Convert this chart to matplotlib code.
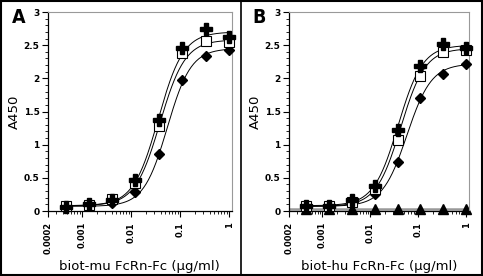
import numpy as np
import matplotlib
matplotlib.use("Agg")
import matplotlib.pyplot as plt
from matplotlib.ticker import FixedLocator, NullFormatter
from matplotlib.patches import Rectangle
from matplotlib.lines import Line2D

# Concentrations (3-fold dilutions, ug/ml)
conc = [0.00046, 0.00137, 0.0041, 0.0123, 0.037, 0.111, 0.333, 1.0]

# Panel A: biot-mu FcRn-Fc
a_cross = [0.06, 0.10, 0.17, 0.46, 1.37, 2.46, 2.75, 2.62]
a_square = [0.07, 0.09, 0.18, 0.42, 1.28, 2.38, 2.56, 2.55]
a_diamond = [0.07, 0.07, 0.12, 0.28, 0.86, 1.97, 2.33, 2.42]

# Panel B: biot-hu FcRn-Fc
b_cross = [0.07, 0.08, 0.16, 0.37, 1.22, 2.18, 2.52, 2.46]
b_square = [0.07, 0.07, 0.13, 0.33, 1.07, 2.03, 2.40, 2.42]
b_diamond = [0.06, 0.07, 0.12, 0.25, 0.74, 1.70, 2.07, 2.22]
b_triangle = [0.03, 0.03, 0.03, 0.03, 0.03, 0.03, 0.03, 0.03]

# fitted 4PL curves: bottom, top, ec50, hill
a_fits = [(0.08, 2.70, 0.036, 1.7), (0.08, 2.58, 0.039, 1.7), (0.07, 2.45, 0.055, 1.8)]
b_fits = [(0.08, 2.50, 0.038, 1.7), (0.07, 2.45, 0.043, 1.7), (0.07, 2.22, 0.058, 1.7)]
b_tri_level = 0.025

xticks = [0.0002, 0.001, 0.01, 0.1, 1]
xticklabels = ["0.0002", "0.001", "0.01", "0.1", "1"]
yticks = [0, 0.5, 1, 1.5, 2, 2.5, 3]
yticklabels = ["0", "0.5", "1", "1.5", "2", "2.5", "3"]


def logistic(x, p):
    bottom, top, ec50, hill = p
    return bottom + (top - bottom) / (1 + (ec50 / x) ** hill)


def setup_axis(ax, xlabel):
    ax.set_xscale("log")
    ax.set_xlim(0.0002, 1.14)
    ax.set_ylim(0, 3)
    ax.xaxis.set_major_locator(FixedLocator(xticks))
    ax.set_xticklabels(xticklabels, rotation=90, fontsize=6, fontweight="bold")
    minors = [m * 10.0 ** e for e in range(-4, 1) for m in range(2, 10)]
    ax.xaxis.set_minor_locator(FixedLocator([v for v in minors if 0.0002 < v < 1.1]))
    ax.xaxis.set_minor_formatter(NullFormatter())
    ax.set_yticks(yticks)
    ax.set_yticklabels(yticklabels, fontsize=6.5, fontweight="bold")
    ax.set_yticks(np.arange(0, 3.01, 0.1), minor=True)
    ax.tick_params(which="major", length=4, width=0.8, pad=2)
    ax.tick_params(axis="x", which="major", pad=4)
    ax.tick_params(which="minor", length=2, width=0.6)
    for s in ["top", "right"]:
        ax.spines[s].set_color("#999999")
        ax.spines[s].set_linewidth(0.8)
    for s in ["left", "bottom"]:
        ax.spines[s].set_linewidth(0.9)
    ax.set_ylabel("A450", fontsize=9.5, labelpad=2)
    ax.set_xlabel(xlabel, fontsize=9.5, labelpad=4)


def draw_series(ax, cross, square, diamond, fits):
    xs = np.logspace(np.log10(0.00046), 0, 200)
    for p in fits:
        ax.plot(xs, logistic(xs, p), color="black", lw=0.7, zorder=2)
    ax.plot(conc, diamond, "D", color="black", ms=5, zorder=3, clip_on=False)
    ax.plot(conc, square, "s", mfc="white", mec="black", mew=0.8, ms=6.5, zorder=4, clip_on=False)
    ax.plot(conc, cross, "P", color="black", ms=8.5, zorder=5, clip_on=False)


fig = plt.figure(figsize=(4.83, 2.76), dpi=100)

axA = fig.add_axes([0.099, 0.2355, 0.381, 0.721])
draw_series(axA, a_cross, a_square, a_diamond, a_fits)
setup_axis(axA, "biot-mu FcRn-Fc (\u03bcg/ml)")

axB = fig.add_axes([0.598, 0.2355, 0.373, 0.721])
axB.axhline(b_tri_level, color="#999999", lw=1.8, zorder=1)
axB.plot(conc, b_triangle, "^", color="black", ms=7, zorder=2, clip_on=False)
draw_series(axB, b_cross, b_square, b_diamond, b_fits)
setup_axis(axB, "biot-hu FcRn-Fc (\u03bcg/ml)")

fig.text(0.025, 0.935, "A", fontsize=14, fontweight="bold", fontstretch="condensed",
         ha="left", va="center")
fig.text(0.523, 0.935, "B", fontsize=14, fontweight="bold", fontstretch="condensed",
         ha="left", va="center")

# outer frame and divider
fig.add_artist(Rectangle((0.002, 0.004), 0.995, 0.992, transform=fig.transFigure,
                         fill=False, edgecolor="black", lw=1.5))
fig.add_artist(Line2D([0.499, 0.499], [0.0, 1.0], transform=fig.transFigure,
                      color="black", lw=1.2))

fig.savefig("out.png", dpi=100)
